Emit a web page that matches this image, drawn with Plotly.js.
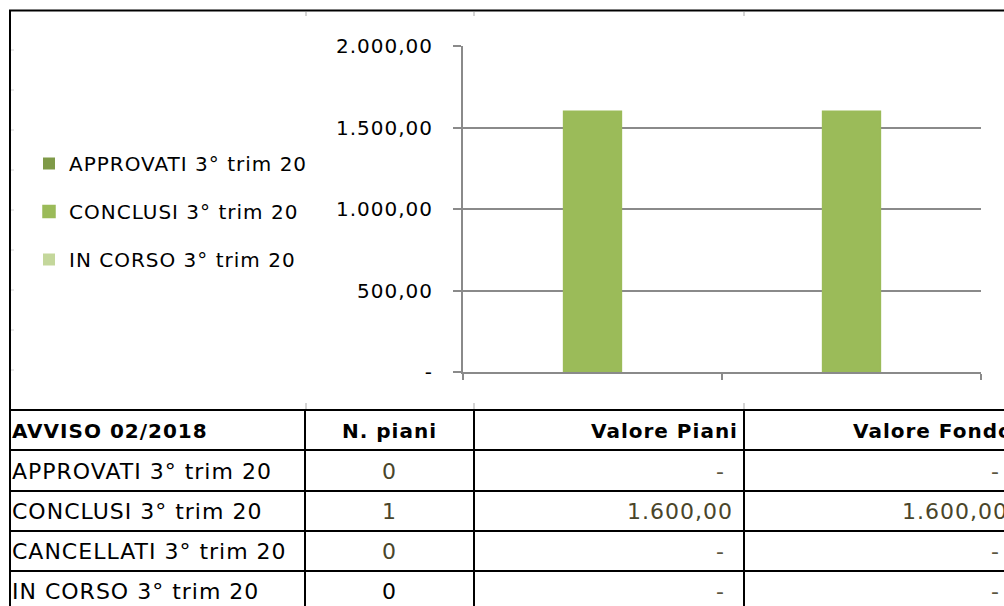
<!DOCTYPE html>
<html>
<head>
<meta charset="utf-8">
<script src="https://cdn.plot.ly/plotly-3.0.1.min.js"></script>
<style>
  html, body { margin: 0; padding: 0; background: #ffffff; }
  #chart { width: 1004px; height: 606px; }
  svg text { letter-spacing: 1px; }
</style>
</head>
<body>
<div id="chart"></div>
<script>
// ---- chart data ----
var categories = ["Valore Piani", "Valore Fondo"];
var seriesNames = ["APPROVATI 3° trim 20", "CONCLUSI 3° trim 20", "IN CORSO 3° trim 20"];
var approvati = [0, 0];
var conclusi = [1600, 1600];
var inCorso = [0, 0];
var yTickVals = [0, 500, 1000, 1500, 2000];
var yTickText = ["-", "500,00", "1.000,00", "1.500,00", "2.000,00"];

// ---- table data ----
var tableHeaders = ["AVVISO 02/2018", "N. piani", "Valore Piani", "Valore Fondo"];
var rowLabels = ["APPROVATI 3° trim 20", "CONCLUSI 3° trim 20", "CANCELLATI 3° trim 20", "IN CORSO 3° trim 20"];
var nPiani = [0, 1, 0, 0];
var valorePiani = [0, 1600, 0, 0];
var valoreFondo = [0, 1600, 0, 0];

// ---- helpers ----
var W = 1004, H = 606;
function px(x) { return x / W; }
function py(y) { return 1 - y / H; }
function fmtIt(v) {
  if (v === 0) return "-";
  var parts = v.toFixed(2).split(".");
  var intPart = parts[0].replace(/\B(?=(\d{3})+(?!\d))/g, ".");
  return intPart + "," + parts[1];
}

var FONT = "'DejaVu Sans', sans-serif";
var colors = ["#7f9a48", "#9bbb59", "#c4d79b"];
var seriesData = [approvati, conclusi, inCorso];

var traces = seriesNames.map(function (name, i) {
  return {
    type: "bar",
    name: name,
    x: categories,
    y: seriesData[i],
    marker: {
      color: colors[i],
      line: {
        color: colors[i],
        width: seriesData[i].map(function (v) { return v > 0 ? 1.5 : 0; })
      }
    },
    legendgroup: "g" + i,
    hoverinfo: "skip"
  };
});

var shapes = [];
var annotations = [];

// chart frame (black border)
shapes.push({ type: "line", xref: "paper", yref: "paper", x0: px(9), x1: px(1010), y0: py(10.5), y1: py(10.5), line: { color: "#000", width: 2 } });
shapes.push({ type: "line", xref: "paper", yref: "paper", x0: px(10), x1: px(10), y0: py(10), y1: py(612), line: { color: "#000", width: 2 } });

// faint spreadsheet cell marks
var colMarks = [306, 474, 744];
colMarks.forEach(function (cx) {
  shapes.push({ type: "line", xref: "paper", yref: "paper", x0: px(cx), x1: px(cx), y0: py(12), y1: py(16), line: { color: "#d4d4d4", width: 2 } });
  shapes.push({ type: "line", xref: "paper", yref: "paper", x0: px(cx), x1: px(cx), y0: py(403), y1: py(409), line: { color: "#d4d4d4", width: 2 } });
});
[50, 90, 130, 170, 210, 250, 290, 330, 370].forEach(function (ry) {
  shapes.push({ type: "line", xref: "paper", yref: "paper", x0: px(11), x1: px(14), y0: py(ry), y1: py(ry), line: { color: "#d4d4d4", width: 1 } });
});

// table grid
var rowLines = [410, 450, 491, 531, 571, 611];
var colLines = [10, 305, 474, 744, 1016];
rowLines.forEach(function (ry) {
  shapes.push({ type: "line", xref: "paper", yref: "paper", x0: px(10), x1: px(1016), y0: py(ry), y1: py(ry), line: { color: "#000", width: 2 } });
});
colLines.forEach(function (cx) {
  shapes.push({ type: "line", xref: "paper", yref: "paper", x0: px(cx), x1: px(cx), y0: py(410), y1: py(611), line: { color: "#000", width: 2 } });
});

// table text
function ann(text, x, y, anchor, color, bold) {
  annotations.push({
    xref: "paper", yref: "paper", x: px(x), y: py(y),
    xanchor: anchor, yanchor: "middle", showarrow: false,
    text: bold ? "<b>" + text + "</b>" : text,
    font: { family: FONT, size: bold ? 20 : 22, color: color },
    borderpad: 0
  });
}
var headerY = 431;
ann(tableHeaders[0], 11, headerY, "left", "#000", true);
ann(tableHeaders[1], 389, headerY, "center", "#000", true);
ann(tableHeaders[2], 739, headerY, "right", "#000", true);
ann(tableHeaders[3], 1014, headerY, "right", "#000", true);

var rowYs = [471, 511, 551, 591];
var valColors = ["#4a452a", "#4a452a", "#4a452a", "#000000"];
rowLabels.forEach(function (lab, r) {
  var y = rowYs[r];
  ann(lab, 11, y, "left", "#000", false);
  ann(String(nPiani[r]), 389, y, "center", valColors[r], false);
  var vp = fmtIt(valorePiani[r]);
  var vf = fmtIt(valoreFondo[r]);
  ann(vp, vp === "-" ? 726 : 734, y, "right", vp === "-" ? "#5a5640" : valColors[r], false);
  ann(vf, vf === "-" ? 1001 : 1009, y, "right", vf === "-" ? "#5a5640" : valColors[r], false);
});

var layout = {
  width: W, height: H,
  margin: { l: 0, r: 0, t: 0, b: 0 },
  paper_bgcolor: "#ffffff",
  plot_bgcolor: "#ffffff",
  font: { family: FONT, size: 20, color: "#000" },
  barmode: "group",
  bargap: 0.33,
  bargroupgap: 0,
  showlegend: true,
  legend: {
    x: px(29), y: py(144), xanchor: "left", yanchor: "top",
    font: { family: FONT, size: 20, color: "#000" },
    traceorder: "grouped",
    tracegroupgap: 19,
    itemwidth: 30,
    bgcolor: "rgba(0,0,0,0)"
  },
  xaxis: {
    domain: [px(463), px(981)],
    range: [-0.5, 1.5],
    showticklabels: false,
    showgrid: false,
    showline: true,
    linecolor: "#8a8a8a",
    linewidth: 2,
    ticks: "outside",
    tickson: "boundaries",
    ticklen: 6,
    tickcolor: "#8a8a8a",
    tickwidth: 2,
    fixedrange: true
  },
  yaxis: {
    domain: [py(372), py(46)],
    range: [0, 2000],
    tickvals: yTickVals,
    ticktext: yTickText,
    showgrid: true,
    gridcolor: "#8a8a8a",
    gridwidth: 2,
    zeroline: false,
    showline: true,
    linecolor: "#8a8a8a",
    linewidth: 2,
    ticks: "outside",
    ticklen: 8,
    tickcolor: "#8a8a8a",
    tickwidth: 2,
    ticklabelstandoff: 16,
    tickfont: { family: FONT, size: 20, color: "#000" },
    fixedrange: true
  },
  shapes: shapes,
  annotations: annotations
};

Plotly.newPlot("chart", traces, layout, { displayModeBar: false, staticPlot: true });
</script>
</body>
</html>
